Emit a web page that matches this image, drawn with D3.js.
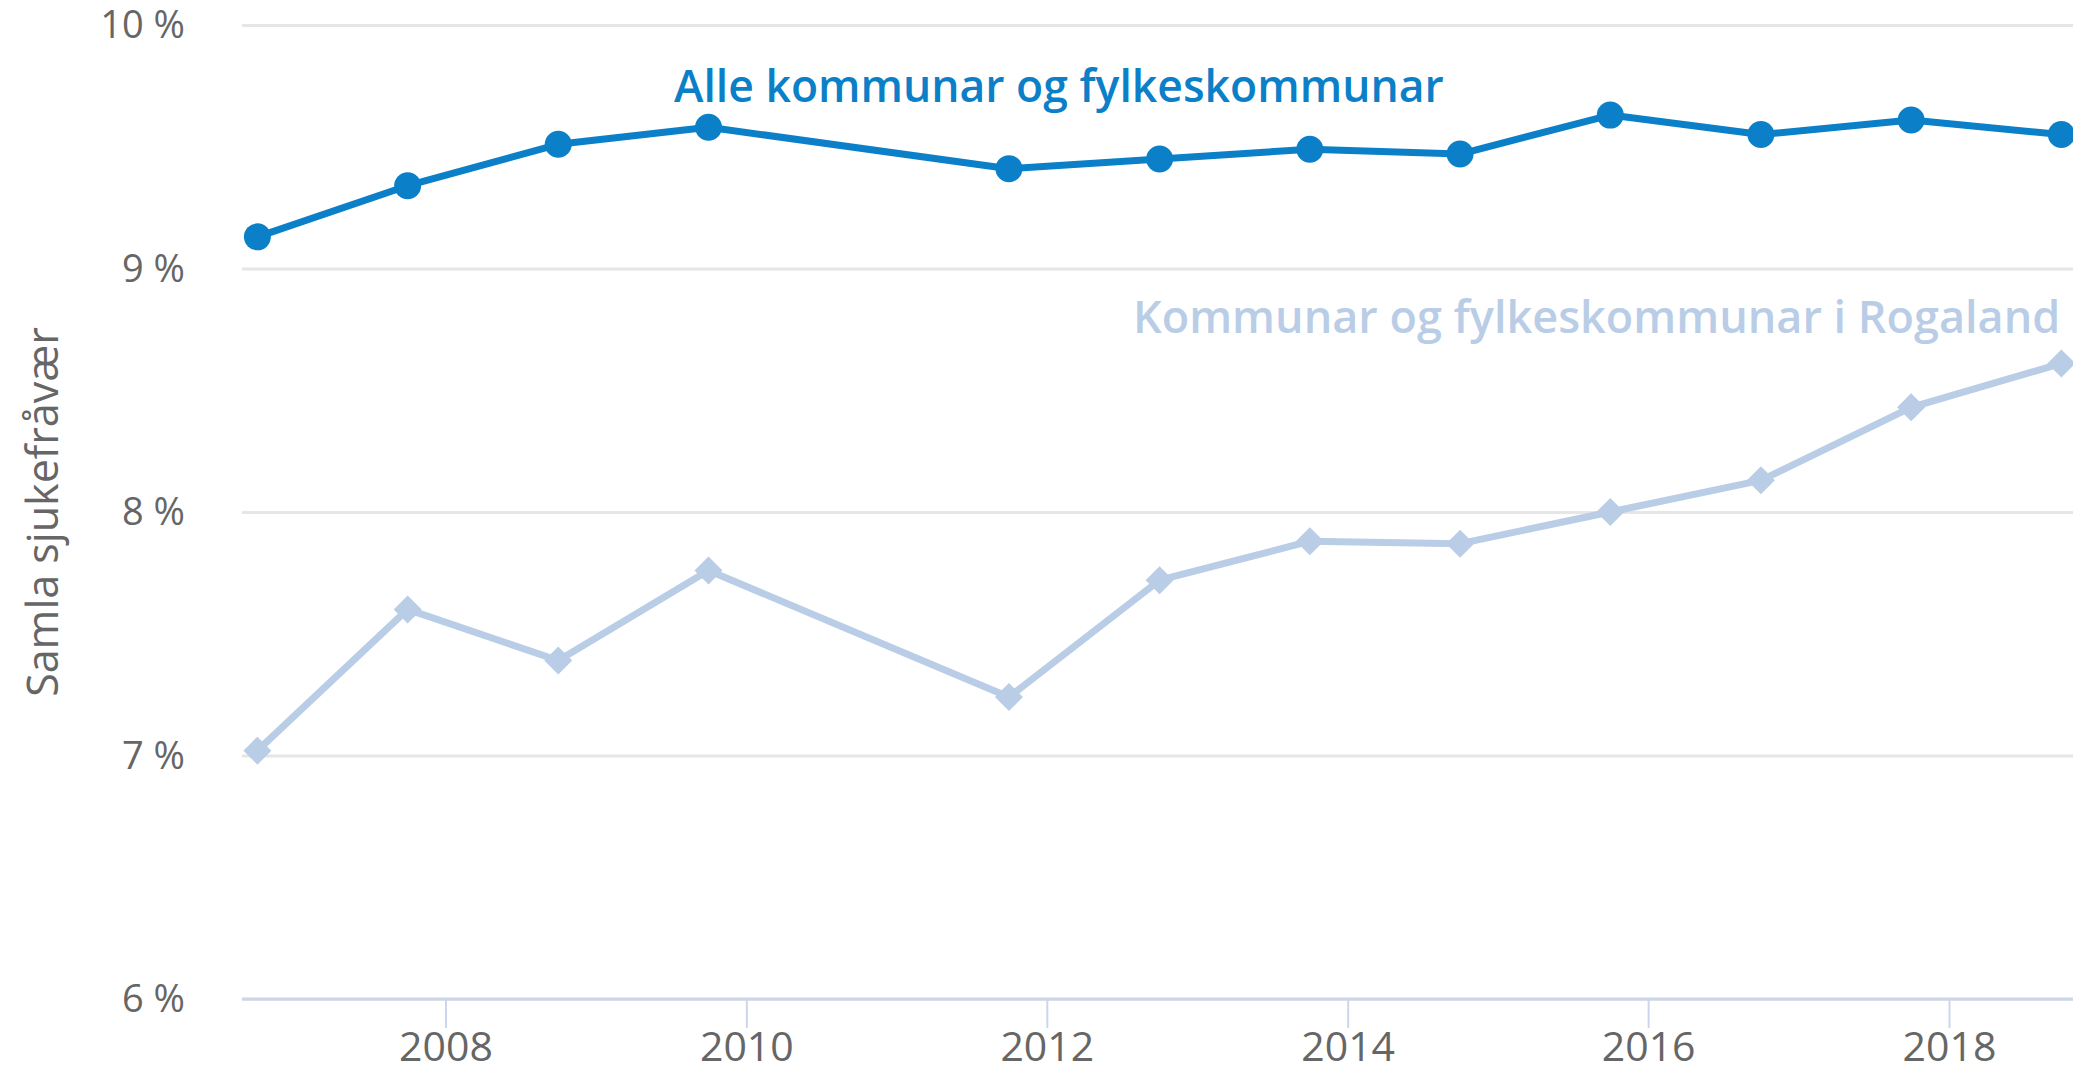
<!DOCTYPE html>
<html>
<head>
<meta charset="utf-8">
<script src="https://cdn.jsdelivr.net/npm/d3@7"></script>
<style>
  html, body { margin: 0; padding: 0; background: #ffffff; overflow: hidden; }
  svg { display: block; }
  text { font-family: "Open Sans", "Noto Sans", sans-serif; }
</style>
</head>
<body>
<svg id="chart" width="2073" height="1073"></svg>
<script>
// ---- data ----
const periods = ["2006-10-01","2007-10-01","2008-10-01","2009-10-01","2011-10-01","2012-10-01",
                 "2013-10-01","2014-10-01","2015-10-01","2016-10-01","2017-10-01","2018-10-01"];
const alleValues = [9.13, 9.34, 9.51, 9.58, 9.41, 9.45, 9.49, 9.47, 9.63, 9.55, 9.61, 9.55];
const rogalandValues = [7.02, 7.60, 7.39, 7.76, 7.24, 7.72, 7.88, 7.87, 8.00, 8.13, 8.43, 8.61];
const yTickValues = [6, 7, 8, 9, 10];
const xTickYears = [2008, 2010, 2012, 2014, 2016, 2018];
const seriesNames = ["Alle kommunar og fylkeskommunar", "Kommunar og fylkeskommunar i Rogaland"];
const yAxisTitle = "Samla sjukefråvær";

// ---- layout ----
const plotLeft = 242, plotRight = 2073, plotTop = 25, plotBottom = 999;
const colDark = "#0b80c8", colLight = "#b9cde6";

const svg = d3.select("#chart");
const parse = d3.timeParse("%Y-%m-%d");
const dates = periods.map(parse);

const x = d3.scaleTime()
  .domain([new Date(2008, 0, 1), new Date(2018, 0, 1)])
  .range([445.5, 1949]);
const y = d3.scaleLinear().domain([6, 10]).range([plotBottom, plotTop]);

// y axis with gridlines
const yAxis = d3.axisLeft(y)
  .tickValues(yTickValues)
  .tickSize(-(plotRight - plotLeft))
  .tickPadding(57)
  .tickFormat(d => d + " %");
const gy = svg.append("g").attr("transform", `translate(${plotLeft},0)`).call(yAxis);
gy.select(".domain").remove();
gy.selectAll(".tick line").attr("stroke", "#e6e6e6").attr("stroke-width", 3);
gy.selectAll(".tick text")
  .attr("fill", "#666666")
  .style("font-size", "38px")
  .attr("dy", "0.34em");

// x axis
const xAxis = d3.axisBottom(x)
  .tickValues(xTickYears.map(yr => new Date(yr, 0, 1)))
  .tickSize(29)
  .tickPadding(4)
  .tickFormat(d3.timeFormat("%Y"));
const gx = svg.append("g").attr("transform", `translate(0,${plotBottom})`).call(xAxis);
gx.select(".domain").remove();
gx.append("line")
  .attr("x1", plotLeft).attr("x2", plotRight)
  .attr("y1", 0).attr("y2", 0)
  .attr("stroke", "#ccd6eb").attr("stroke-width", 3);
gx.selectAll(".tick line").attr("stroke", "#ccd6eb").attr("stroke-width", 2);
gx.selectAll(".tick text")
  .attr("fill", "#666666")
  .style("font-size", "41px");

// y axis title
svg.append("text")
  .attr("transform", `translate(58,${512}) rotate(-90)`)
  .attr("text-anchor", "middle")
  .attr("fill", "#666666")
  .style("font-size", "43px")
  .text(yAxisTitle);

const line = d3.line().x(d => x(d.date)).y(d => y(d.v));

// Rogaland series (light, diamonds)
const rog = dates.map((d, i) => ({ date: d, v: rogalandValues[i] }));
svg.append("path").datum(rog)
  .attr("d", line).attr("fill", "none")
  .attr("stroke", colLight).attr("stroke-width", 7)
  .attr("stroke-linejoin", "round").attr("stroke-linecap", "round");
svg.selectAll(".diamond").data(rog).enter().append("path")
  .attr("class", "diamond")
  .attr("transform", d => `translate(${x(d.date)},${y(d.v)})`)
  .attr("d", "M0,-14L14,0L0,14L-14,0Z")
  .attr("fill", colLight);

// Alle series (dark, circles)
const alle = dates.map((d, i) => ({ date: d, v: alleValues[i] }));
svg.append("path").datum(alle)
  .attr("d", line).attr("fill", "none")
  .attr("stroke", colDark).attr("stroke-width", 7)
  .attr("stroke-linejoin", "round").attr("stroke-linecap", "round");
svg.selectAll(".dot").data(alle).enter().append("circle")
  .attr("class", "dot")
  .attr("cx", d => x(d.date)).attr("cy", d => y(d.v))
  .attr("r", 13.5)
  .attr("fill", colDark);

// series labels
svg.append("text")
  .attr("x", 674).attr("y", 102)
  .attr("fill", colDark)
  .style("font-size", "44.5px").style("font-weight", 600)
  .text(seriesNames[0]);
svg.append("text")
  .attr("x", 1133).attr("y", 333)
  .attr("fill", colLight)
  .style("font-size", "45px").style("font-weight", 600)
  .text(seriesNames[1]);
</script>
</body>
</html>
